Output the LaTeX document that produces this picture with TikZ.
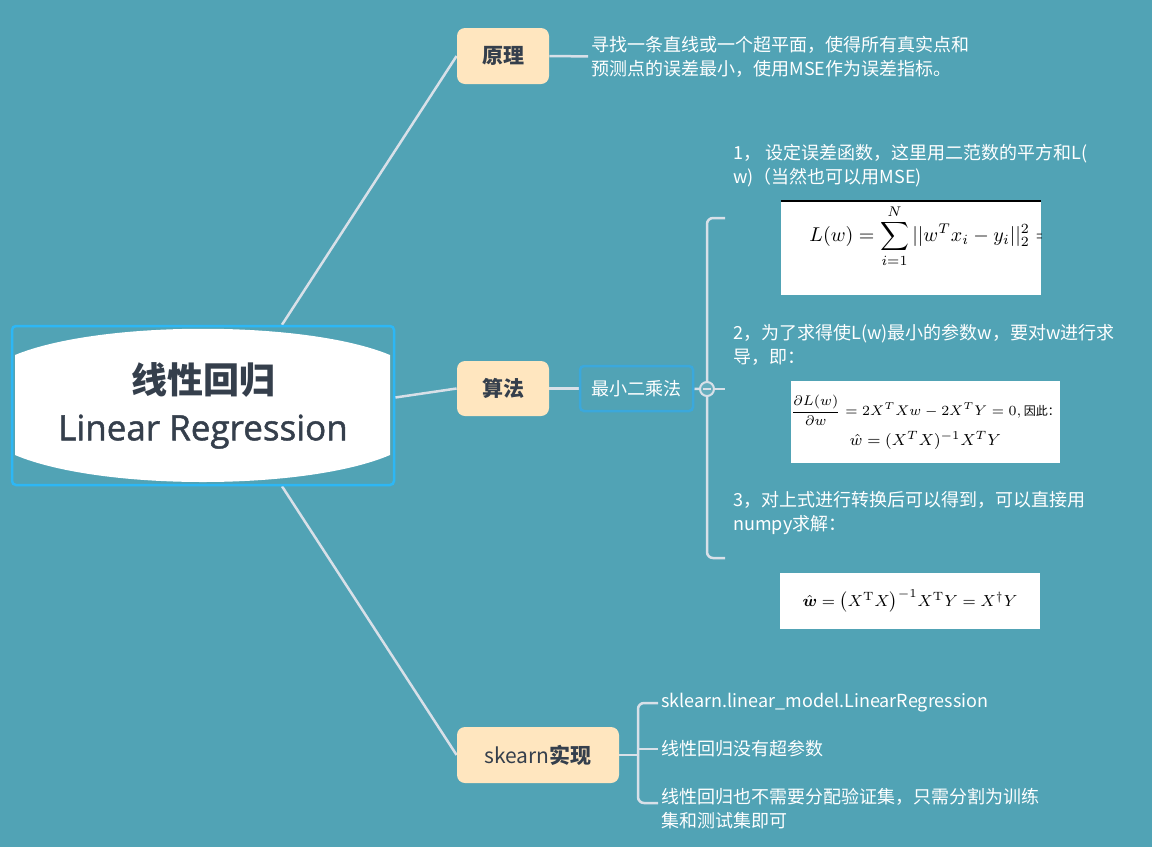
\documentclass[tikz,border=0pt]{standalone}
\usepackage{amsmath,amssymb}
\usepackage[no-math]{fontspec}
\setmainfont{Noto Sans CJK SC}
\newfontfamily\latinfont[FakeBold=1.3]{Open Sans}
\usepackage{tikz}
\usetikzlibrary{positioning, calc, backgrounds}
\definecolor{mapBg}{HTML}{51A3B5}
\definecolor{mapLine}{HTML}{D8E0E8}
\definecolor{mapPeach}{HTML}{FFE6BF}
\definecolor{mapBlue}{HTML}{2DB7F5}
\definecolor{mapBlueDark}{HTML}{3BA8DC}
\definecolor{mapInk}{HTML}{353F4C}

\begin{document}
\begin{tikzpicture}[x=0.5pt, y=-0.5pt,
    topic/.style={rectangle, rounded corners=4pt, fill=mapPeach, text=mapInk,
      font=\fontsize{10.5}{12}\selectfont\bfseries, inner sep=0pt},
    leaf/.style={anchor=west, align=left, text=white, inner sep=1.5pt,
      font=\fontsize{9}{12}\selectfont},
    link/.style={draw=mapLine, line width=1.25pt},
    formula/.style={rectangle, fill=white, inner sep=0pt}
  ]
  \useasboundingbox (0,0) rectangle (1152,847);

  \fill[white] (15,355) .. controls (100,320) and (306,320) .. (390,355) -- (390,455)
    .. controls (306,491) and (100,491) .. (15,455) -- cycle;
  \node[draw=mapBlue, line width=1.25pt, rounded corners=2pt, minimum width=191pt,
    minimum height=79.5pt, align=center, text=mapInk, font=\fontsize{18}{23.5}\selectfont]
    (root) at (203,405.5)
    {{\bfseries 线性回归}\\{\latinfont\fontsize{17.5}{23.5}\selectfont Linear Regression}};

  \node[topic, minimum width=46pt, minimum height=28pt] (yuanli) at (503,56) {原理};
  \node[topic, minimum width=46pt, minimum height=27.5pt] (suanfa) at (503,388.5) {算法};
  \node[topic, minimum width=81pt, minimum height=28pt, font=\fontsize{10.5}{12}\selectfont]
    (impl) at (538,755) {skearn\textbf{实现}};

  \node[leaf] (yuanliTxt) at (588,57) {寻找一条直线或一个超平面，使得所有真实点和\\预测点的误差最小，使用MSE作为误差指标。};

  \node[draw=mapBlueDark, line width=1.25pt, rounded corners=2pt, minimum width=56.5pt,
    minimum height=22.5pt, text=white, font=\fontsize{9}{11}\selectfont] (lsq) at (636.5,388.5) {最小二乘法};

  \coordinate (tog) at (707,389);
  \coordinate (brTop) at (725,218);
  \coordinate (brMid) at (725,389);
  \coordinate (brBot) at (725,558);

  \node[leaf] (step1) at (730,166) {1， 设定误差函数，这里用二范数的平方和L(\\w)（当然也可以用MSE)};
  \node[formula, minimum width=130pt, minimum height=47.5pt] (eq1) at (911,247.5) {};
  \begin{scope}
    \clip (eq1.south west) rectangle (eq1.north east);
    \node[anchor=west, inner sep=0pt, font=\fontsize{10}{12}\selectfont] (eq1body) at (809,236)
      {$\displaystyle L(w) = \sum_{i=1}^{N} ||w^T x_i - y_i||_2^2 =$};
  \end{scope}
  \draw[black, line width=1pt] ([yshift=-0.8pt]eq1.north west) -- ([yshift=-0.8pt]eq1.north east);

  \node[leaf] (step2) at (730,345) {2，为了求得使L(w)最小的参数w，要对w进行求\\导，即：};
  \node[formula, minimum width=129.5pt, minimum height=41pt, align=center,
    font=\fontsize{7.5}{16}\selectfont] (eq2) at (925.5,422)
    {$\dfrac{\partial L(w)}{\partial w} = 2X^TXw - 2X^TY = 0,$\,{\fontsize{6}{8}\selectfont 因此：}\\[-1pt]
     {\fontsize{8}{10}\selectfont$\hat w = (X^TX)^{-1}X^TY$}};

  \node[leaf] (step3) at (730,513) {3，对上式进行转换后可以得到，可以直接用\\numpy求解：};
  \node[formula, minimum width=130pt, minimum height=28pt, font=\fontsize{8.5}{10}\selectfont]
    (eq3) at (910,601) {$\hat{\boldsymbol{w}} = \bigl(X^{\mathrm T}X\bigr)^{-1}X^{\mathrm T}Y = X^{\dagger}Y$};

  \coordinate (skJoin) at (638,755);
  \node[leaf] (sk1) at (658,703) {sklearn.linear\_model.LinearRegression};
  \node[leaf] (sk2) at (658,749) {线性回归没有超参数};
  \node[leaf] (sk3) at (658,808.5) {线性回归也不需要分配验证集，只需分割为训练\\集和测试集即可};

  \node[circle, draw=mapLine, fill=mapBg!88!white, line width=1pt, minimum size=7pt, inner sep=0pt]
    (togc) at (tog) {};
  \draw[mapLine, line width=1pt] ([xshift=-2pt]togc.center) -- ([xshift=2pt]togc.center);

  \begin{pgfonlayer}{background}
    \fill[mapBg] (0,0) rectangle (1152,847);
    \draw[link] ([xshift=39.5pt]root.north) -- (yuanli.west);
    \draw[link] ([yshift=4pt]root.east) -- (suanfa.west);
    \draw[link] ([xshift=39.5pt]root.south) -- (impl.west);
    \draw[link] (yuanli) -- (yuanliTxt);
    \draw[link] (suanfa) -- (lsq);
    \draw[link] (lsq) -- (tog);
    \draw[link, rounded corners=3pt] (brTop) -| (tog) |- (brBot);
    \draw[link] (tog) -- (brMid);
    \draw[link] (impl) -- (skJoin);
    \draw[link, rounded corners=3pt] (sk1.west) -| (skJoin) |- ([yshift=2.75pt]sk3.west);
    \draw[link] (skJoin |- sk2.west) -- (sk2.west);
  \end{pgfonlayer}
\end{tikzpicture}
\end{document}
